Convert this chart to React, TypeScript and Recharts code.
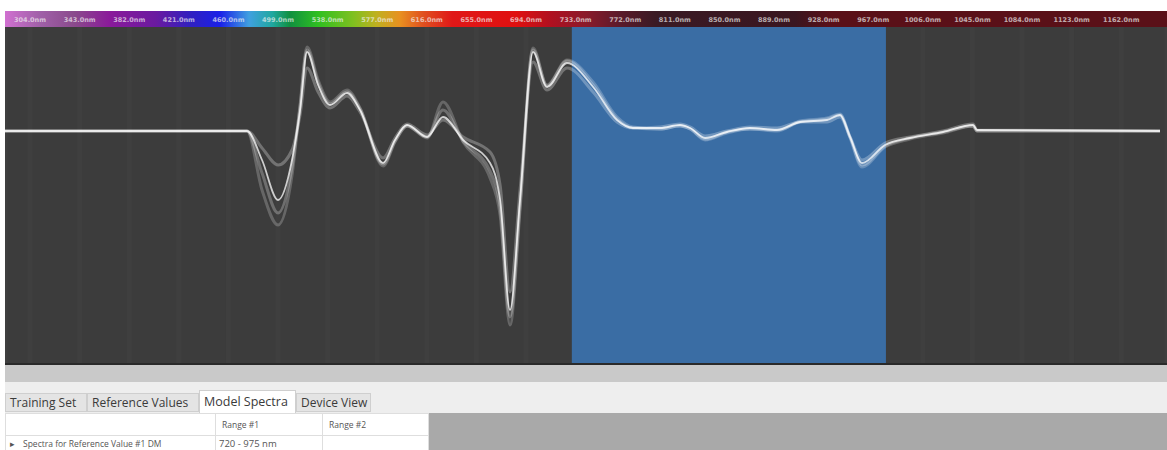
import React from "react";
import {
  LineChart,
  Line,
  XAxis,
  YAxis,
  CartesianGrid,
  ReferenceArea,
} from "recharts";

// wavelength (nm) for every sample point
const wavelengths = [
  284, 474.6, 486.4, 499.0, 510.0, 516.3, 521.8, 530.5, 539.9, 553.3, 563.5,
  581.6, 591.0, 600.4, 616.2, 628.7, 644.5, 665.7, 673.6, 681.4, 689.3, 699.5,
  710.5, 726.2, 746.7, 765.6, 778.1, 799.4, 815.1, 823.0, 834.8, 852.0, 870.1,
  891.4, 909.5, 930.7, 940.9, 948.8, 958.2, 976.3, 995.9, 1021.9, 1045.5,
  1048.6, 1192.5,
];

// model spectra: centre of the bundle plus its outer edges
const spectraCore = [
  0, 0, -2.9, -6.9, -2.9, 2.1, 7.9, 4.6, 2.6, 3.8, 2.1, -3.2, -0.9, 0.6, -0.6,
  1.4, -0.9, -3.2, -6.9, -17.9, -6.9, 7.9, 4.4, 6.8, 4.4, 1.1, 0.3, 0.3, 0.6,
  0.3, -0.7, -0.1, 0.3, 0.1, 0.9, 1.1, 1.6, -0.6, -3.2, -1.4, -0.7, -0.1, 0.6,
  0.1, 0,
];
const spectraHigh = [
  0, 0, -1.7, -3.4, -1.9, 1.6, 6.3, 3.9, 2.3, 3.5, 1.9, -2.7, -0.7, 0.7, -0.4,
  1.1, -0.6, -2.1, -5.4, -16.1, -5.9, 6.9, 4.1, 6.3, 3.9, 0.9, 0.3, 0.4, 0.7,
  0.4, -0.5, 0, 0.4, 0.3, 0.9, 0.9, 1.4, -0.6, -2.9, -1.2, -0.6, 0, 0.7, 0.1, 0,
];
const spectraMid = [
  0, 0, -4.2, -8.2, -3.6, 2.4, 8.1, 4.8, 2.7, 3.9, 2.2, -3.3, -1.0, 0.5, -0.6,
  2.1, -1.0, -4.0, -7.6, -18.6, -7.4, 8.1, 4.5, 7.0, 4.6, 1.2, 0.3, 0.2, 0.5,
  0.2, -0.8, -0.1, 0.2, 0.1, 0.9, 1.2, 1.6, -0.6, -3.4, -1.5, -0.7, -0.1, 0.5,
  0, 0,
];
const spectraLow = [
  0, 0, -5.9, -9.4, -4.4, 2.6, 8.4, 5.1, 2.9, 4.1, 2.3, -3.5, -1.1, 0.5, -0.7,
  2.9, -1.1, -4.7, -8.4, -19.4, -7.9, 8.3, 4.6, 7.1, 4.9, 1.4, 0.4, 0.2, 0.5,
  0.2, -0.9, -0.2, 0.2, 0, 1.0, 1.3, 1.7, -0.7, -3.6, -1.6, -0.8, -0.2, 0.5, 0,
  0,
];

// wavelength labels printed on the colour bar
const barTicks = [
  304, 343, 382, 421, 460, 499, 538, 577, 616, 655, 694, 733, 772, 811, 850,
  889, 928, 967, 1006, 1045, 1084, 1123, 1162,
];

// selected range #1
const rangeStart = 730;
const rangeEnd = 977;

const tabs = ["Training Set", "Reference Values", "Model Spectra", "Device View"];
const tableHeaders = ["", "Range #1", "Range #2"];
const tableRow = ["Spectra for Reference Value #1 DM", "720 - 975 nm", ""];

const chartData = wavelengths.map((nm, i) => ({
  nm,
  core: spectraCore[i],
  high: spectraHigh[i],
  mid: spectraMid[i],
  low: spectraLow[i],
}));

const spectrumGradient =
  "linear-gradient(to right, #d070d0 0%, #a060a8 3%, #8a4a8c 6%, #8a1a9a 9%, #6a1aa0 13%, #3020c0 16%, #1a20e8 18.5%, #40a0e0 21%, #20a8a0 23%, #109040 24.5%, #30c020 27%, #80c020 30%, #c0b020 32%, #e89020 34%, #e05020 36%, #e01818 38.5%, #e01010 44%, #b01020 47%, #8a1a2a 50%, #5a1a2a 53%, #3a1a24 56%, #3a1620 68%, #5a1018 71%, #5a1018 100%)";

const BarTick = (props: any) => {
  const { x, payload } = props;
  return (
    <text
      x={x}
      y={11}
      textAnchor="middle"
      fontSize={6.5}
      fontFamily="DejaVu Sans, sans-serif"
      fontWeight="bold"
      fill="#f0f0f0"
      fillOpacity={0.7}
    >
      {`${payload.value.toFixed(1)}nm`}
    </text>
  );
};

const uiFont = "'Open Sans', 'Noto Sans', sans-serif";

const series = [
  { key: "low", opacity: 0.22, width: 3 },
  { key: "mid", opacity: 0.26, width: 3 },
  { key: "high", opacity: 0.28, width: 3 },
  { key: "core", opacity: 0.75, width: 1.8 },
];

export default function App() {
  return (
    <div
      style={{
        position: "absolute",
        left: 0,
        top: 0,
        width: 1167,
        height: 450,
        background: "#ffffff",
        overflow: "hidden",
      }}
    >
      {/* colour bar + plot background */}
      <div
        style={{
          position: "absolute",
          left: 5,
          top: 11,
          width: 1162,
          height: 16,
          background: spectrumGradient,
        }}
      />
      <div
        style={{
          position: "absolute",
          left: 5,
          top: 27,
          width: 1162,
          height: 336,
          background: "#3c3c3c",
        }}
      />
      <div style={{ position: "absolute", left: 5, top: 11 }}>
        <LineChart
          width={1162}
          height={352}
          data={chartData}
          margin={{ top: 0, right: 0, bottom: 0, left: 0 }}
        >
          <CartesianGrid horizontal={false} stroke="#3f3f3f" strokeWidth={5} />
          <XAxis
            dataKey="nm"
            type="number"
            orientation="top"
            domain={[284.3, 1198]}
            ticks={barTicks}
            height={16}
            axisLine={false}
            tickLine={false}
            tick={<BarTick />}
            allowDataOverflow
          />
          <YAxis hide domain={[-23.2, 10.4]} allowDataOverflow />
          <ReferenceArea
            x1={rangeStart}
            x2={rangeEnd}
            fill="#3a6da4"
            fillOpacity={1}
            stroke="none"
          />
          {series.map((s) => (
            <Line
              key={s.key}
              dataKey={s.key}
              type="monotone"
              stroke="#ffffff"
              strokeOpacity={s.opacity}
              strokeWidth={s.width}
              dot={false}
              isAnimationActive={false}
            />
          ))}
        </LineChart>
      </div>

      {/* lower panel */}
      <div
        style={{
          position: "absolute",
          left: 5,
          top: 363,
          width: 1162,
          height: 2,
          background: "#2a2a2a",
        }}
      />
      <div
        style={{
          position: "absolute",
          left: 5,
          top: 365,
          width: 1162,
          height: 17,
          background: "#c9c9c9",
        }}
      />
      <div
        style={{
          position: "absolute",
          left: 5,
          top: 382,
          width: 1162,
          height: 31,
          background: "#eeeeee",
        }}
      />
      <div
        style={{
          position: "absolute",
          left: 5,
          top: 390,
          display: "flex",
          fontFamily: uiFont,
          fontSize: 12,
          color: "#3a3a3a",
        }}
      >
        {tabs.map((t, i) => {
          const sel = t === "Model Spectra";
          return (
            <div
              key={t}
              style={{
                boxSizing: "border-box",
                width: [82, 112, 97, 75][i],
                height: sel ? 23 : 19,
                marginTop: sel ? 0 : 3,
                padding: "0 4px",
                lineHeight: sel ? "21px" : "18px",
                whiteSpace: "nowrap",
                background: sel ? "#ffffff" : "#e4e4e4",
                border: "1px solid #cfcfcf",
                borderBottom: sel ? "none" : "1px solid #cfcfcf",
                fontSize: sel ? 12.5 : 12,
              }}
            >
              {t}
            </div>
          );
        })}
      </div>
      <div
        style={{
          position: "absolute",
          left: 428,
          top: 413,
          width: 739,
          height: 37,
          background: "#a9a9a9",
        }}
      />
      <table
        style={{
          position: "absolute",
          left: 5,
          top: 413,
          width: 423,
          borderCollapse: "collapse",
          fontFamily: uiFont,
          fontSize: 8.5,
          color: "#555",
          background: "#ffffff",
          tableLayout: "fixed",
        }}
      >
        <colgroup>
          <col style={{ width: 210 }} />
          <col style={{ width: 107 }} />
          <col style={{ width: 106 }} />
        </colgroup>
        <tbody>
          <tr style={{ height: 22 }}>
            {tableHeaders.map((h, i) => (
              <td
                key={i}
                style={{ border: "1px solid #dedede", padding: "0 6px" }}
              >
                {h}
              </td>
            ))}
          </tr>
          <tr style={{ height: 16 }}>
            {tableRow.map((c, i) => (
              <td
                key={i}
                style={{
                  border: "1px solid #dedede",
                  padding: i === 0 ? "0 4px" : "0 3px",
                  whiteSpace: "nowrap",
                  overflow: "hidden",
                  fontSize: i === 1 ? 9.5 : 8.5,
                }}
              >
                {i === 0 ? (
                  <span>
                    <span style={{ marginRight: 8 }}>▸</span>
                    {c}
                  </span>
                ) : (
                  c
                )}
              </td>
            ))}
          </tr>
        </tbody>
      </table>
    </div>
  );
}
